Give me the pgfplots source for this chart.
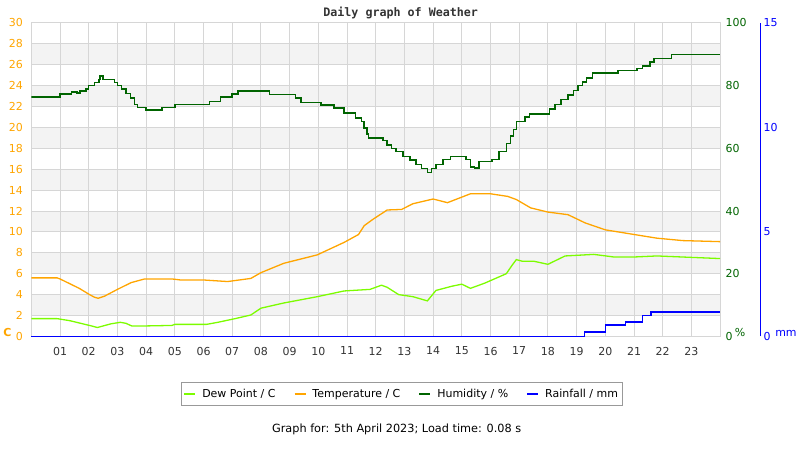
\documentclass[border=0pt]{standalone}
\usepackage{pgfplots}
\pgfplotsset{compat=1.18}
\usepackage{fontspec}
\setmainfont{DejaVu Sans}
\newfontfamily\titlefont{DejaVu Sans Mono}
\definecolor{tempc}{HTML}{FFA500}
\definecolor{dewc}{HTML}{7CFC00}
\definecolor{humc}{HTML}{006400}
\definecolor{rainc}{HTML}{0000FF}
\definecolor{gridc}{HTML}{D6D6D6}
\definecolor{bandc}{HTML}{F3F3F3}
\definecolor{txtc}{HTML}{333333}

\pgfplotstableread{
t T
0 5.6
0.9 5.6
1.0 5.5
1.67 4.6
2.03 4.0
2.2 3.75
2.33 3.65
2.55 3.85
3.0 4.5
3.48 5.15
3.95 5.5
4.9 5.5
5.2 5.4
6.0 5.4
6.84 5.25
7.65 5.55
8.0 6.1
8.8 7.0
9.96 7.8
10.9 9.0
11.4 9.75
11.6 10.6
11.9 11.2
12.4 12.1
12.9 12.15
13.3 12.7
14.0 13.15
14.5 12.8
15.3 13.65
16.0 13.65
16.6 13.4
16.9 13.1
17.4 12.3
18.0 11.9
18.7 11.65
19.3 10.86
20.0 10.2
20.9 9.8
21.8 9.4
22.7 9.17
24 9.07
}\temptable

\pgfplotstableread{
t D
0 1.7
0.9 1.7
1.35 1.5
1.8 1.2
2.1 1.0
2.3 0.85
2.5 1.0
2.77 1.2
3.1 1.35
3.3 1.25
3.5 1.0
3.95 1.0
4.9 1.05
5.0 1.15
6.1 1.15
6.5 1.35
7.1 1.7
7.65 2.05
8.0 2.7
8.8 3.2
9.96 3.8
10.9 4.35
11.8 4.5
12.2 4.9
12.4 4.7
12.8 4.0
13.3 3.8
13.8 3.4
14.1 4.4
14.65 4.8
15.0 5.0
15.3 4.6
15.8 5.1
16.3 5.7
16.55 6.0
16.75 6.8
16.9 7.35
17.1 7.2
17.5 7.2
18.0 6.9
18.3 7.3
18.6 7.7
19.6 7.85
20.3 7.6
21.0 7.6
21.8 7.7
24 7.45
}\dewtable

\pgfplotstableread{
t H
0 76.3
1.0 77.3
1.4 78.0
1.6 77.6
1.7 78.3
1.9 79.0
2.0 80.0
2.2 81.0
2.35 82.0
2.4 83.0
2.5 82.0
2.9 81.0
3.0 80.0
3.15 79.0
3.3 77.5
3.45 76.0
3.6 74.0
3.7 73.0
4.0 72.3
4.55 73.0
5.0 74.0
6.2 75.0
6.6 76.3
7.0 77.3
7.2 78.3
8.3 77.1
9.2 76.0
9.4 74.7
10.1 73.9
10.55 72.8
10.9 71.2
11.3 69.7
11.5 68.5
11.6 66.5
11.7 64.5
11.75 63.3
12.25 62.5
12.4 61.1
12.55 60.0
12.7 59.0
12.95 57.4
13.2 56.2
13.4 54.8
13.6 53.5
13.8 52.3
13.95 53.5
14.1 54.8
14.35 56.4
14.6 57.4
15.15 56.5
15.3 54.0
15.45 53.7
15.6 55.8
16.05 56.4
16.3 59.0
16.55 61.5
16.7 64.0
16.8 66.0
16.9 68.6
17.2 70.0
17.35 71.0
18.05 72.5
18.25 74.0
18.45 75.5
18.7 77.0
18.9 78.5
19.05 80.0
19.2 81.2
19.35 82.5
19.55 84.0
20.45 84.8
21.1 85.5
21.3 86.3
21.55 87.5
21.7 88.7
22.3 90.0
24 90.0
}\humtable

\pgfplotstableread{
t R
0 0
19.28 0
19.28 0.2
20.0 0.2
20.0 0.55
20.7 0.55
20.7 0.7
21.3 0.7
21.3 1.0
21.6 1.0
21.6 1.18
24 1.18
}\raintable

\begin{document}
\begin{tikzpicture}
\pgfplotsset{
  base/.style={
    at={(30pt,113pt)}, anchor=south west,
    scale only axis, width=690pt, height=314pt,
    xmin=0, xmax=24,
    major tick length=0pt,
    tick label style={font=\fontsize{11}{13}\selectfont},
    /pgf/number format/assume math mode=true,
  }
}
% background bands
\begin{axis}[base, ymin=0, ymax=30, hide axis]
\addplot[draw=none, fill=bandc] coordinates {(0,2) (24,2) (24,4) (0,4)} -- cycle;
\addplot[draw=none, fill=bandc] coordinates {(0,6) (24,6) (24,8) (0,8)} -- cycle;
\addplot[draw=none, fill=bandc] coordinates {(0,10) (24,10) (24,12) (0,12)} -- cycle;
\addplot[draw=none, fill=bandc] coordinates {(0,14) (24,14) (24,16) (0,16)} -- cycle;
\addplot[draw=none, fill=bandc] coordinates {(0,18) (24,18) (24,20) (0,20)} -- cycle;
\addplot[draw=none, fill=bandc] coordinates {(0,22) (24,22) (24,24) (0,24)} -- cycle;
\addplot[draw=none, fill=bandc] coordinates {(0,26) (24,26) (24,28) (0,28)} -- cycle;
\end{axis}

\begin{axis}[base,
  ymin=0, ymax=30, ytick={0,2,...,30},
  xtick={1,...,23},
  xticklabels={01,02,03,04,05,06,07,08,09,10,11,12,13,14,15,16,17,18,19,20,21,22,23},
  grid=major, grid style={gridc, line width=1pt},
  axis line style={gridc, line width=1pt},
  yticklabel style={tempc, xshift=-5pt},
  xticklabel style={txtc, yshift=-7pt},
  legend style={at={(0.5377,-0.1465)}, anchor=north, draw=gray!80, line width=0.8pt,
    font=\fontsize{11}{13}\selectfont, inner xsep=2pt, inner ysep=4.5pt,
    /tikz/every even column/.append style={column sep=16pt}},
  legend columns=4,
  legend image code/.code={\draw[#1, line width=2pt] (0pt,0pt) -- (11pt,0pt); \path[draw=none] (0pt,0pt) -- (16pt,0pt);},
]
\addplot[dewc, line width=1.3pt] table[x=t, y=D] {\dewtable};
\addlegendentry{Dew Point / C}
\addplot[tempc, line width=1.3pt] table[x=t, y=T] {\temptable};
\addlegendentry{Temperature / C}
\addlegendimage{humc}
\addlegendentry{Humidity / \%}
\addlegendimage{rainc}
\addlegendentry{Rainfall / mm}
\end{axis}

\begin{axis}[base,
  ymin=0, ymax=100, ytick={0,20,...,100},
  axis x line=none, axis y line*=right,
  y axis line style={draw=none},
  yticklabel style={humc, xshift=2pt},
]
\addplot[color=humc, line width=1.5pt, const plot] table[x=t, y=H] {\humtable};
\end{axis}

\begin{axis}[base,
  ymin=0, ymax=15, ytick={0,5,10,15},
  axis x line=none, axis y line*=right,
  y axis line style={rainc, line width=1pt, xshift=40pt, -},
  yticklabel style={rainc, xshift=40pt},
  clip=false,
]
\addplot[color=rainc, line width=1.6pt] table[x=t, y=R] {\raintable};
\end{axis}

\node[tempc, font=\bfseries\fontsize{11}{13}\selectfont] at (6pt,117pt) {C};
\node[humc, font=\fontsize{11}{13}\selectfont] at (740pt,117pt) {\%};
\node[rainc, font=\fontsize{11}{13}\selectfont] at (786pt,116pt) {mm};
\node[txtc, anchor=base, font=\titlefont\bfseries\fontsize{11.7}{13}\selectfont] at (400pt,433pt) {Daily graph of Weather};
\node[black, anchor=base, font=\fontsize{11.3}{13}\selectfont] at (396pt,16.7pt) {Graph for: 5th April 2023; Load time: 0.08 s};
\path (0pt,0pt) rectangle (800pt,450pt);
\end{tikzpicture}
\end{document}
